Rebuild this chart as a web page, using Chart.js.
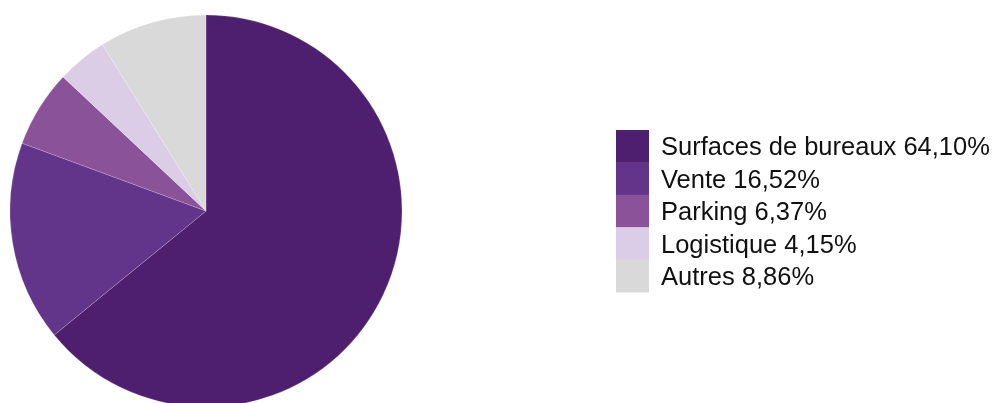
<!DOCTYPE html>
<html>
<head>
<meta charset="utf-8">
<script src="https://cdn.jsdelivr.net/npm/chart.js@4"></script>
<style>
  html, body { margin: 0; padding: 0; background: #fff; }
  #wrap { width: 996px; height: 403px; position: relative; }
</style>
</head>
<body>
<div id="wrap"><canvas id="pieChart" width="996" height="403"></canvas></div>
<script>
// Chart data
const categories = ['Surfaces de bureaux', 'Vente', 'Parking', 'Logistique', 'Autres'];
const shares = [64.10, 16.52, 6.37, 4.15, 8.86];
const sliceColors = ['#4f1f6f', '#62358a', '#8a5399', '#dccde6', '#d9d9d9'];

// Format a share the French way (comma decimal)
function formatShare(v) {
  return v.toFixed(2).replace('.', ',') + '%';
}

// Legend drawn on the canvas: contiguous colour boxes with text
const sideLegend = {
  id: 'sideLegend',
  afterDraw(chart) {
    const ctx = chart.ctx;
    const ds = chart.data.datasets[0];
    const boxX = 616, boxW = 33, top = 130, rowH = 32.4;
    ctx.save();
    ctx.font = '25.5px "Liberation Sans", Arial, sans-serif';
    ctx.textBaseline = 'alphabetic';
    ctx.textAlign = 'left';
    chart.data.labels.forEach((label, i) => {
      const y = top + i * rowH;
      ctx.fillStyle = ds.backgroundColor[i];
      ctx.fillRect(boxX, y, boxW, rowH + 0.5);
      ctx.fillStyle = '#111';
      ctx.fillText(label + ' ' + formatShare(ds.data[i]), 661, y + rowH / 2 + 9.2);
    });
    ctx.restore();
  }
};

const ctx = document.getElementById('pieChart').getContext('2d');
new Chart(ctx, {
  type: 'pie',
  data: {
    labels: categories,
    datasets: [{
      data: shares,
      backgroundColor: sliceColors,
      borderColor: 'rgba(255,255,255,0.35)',
      borderWidth: 0.5
    }]
  },
  options: {
    responsive: false,
    animation: false,
    radius: 196,
    layout: {
      padding: { left: 10, top: 19, right: 594, bottom: 0 }
    },
    plugins: {
      legend: { display: false },
      tooltip: { enabled: false }
    }
  },
  plugins: [sideLegend]
});
</script>
</body>
</html>
